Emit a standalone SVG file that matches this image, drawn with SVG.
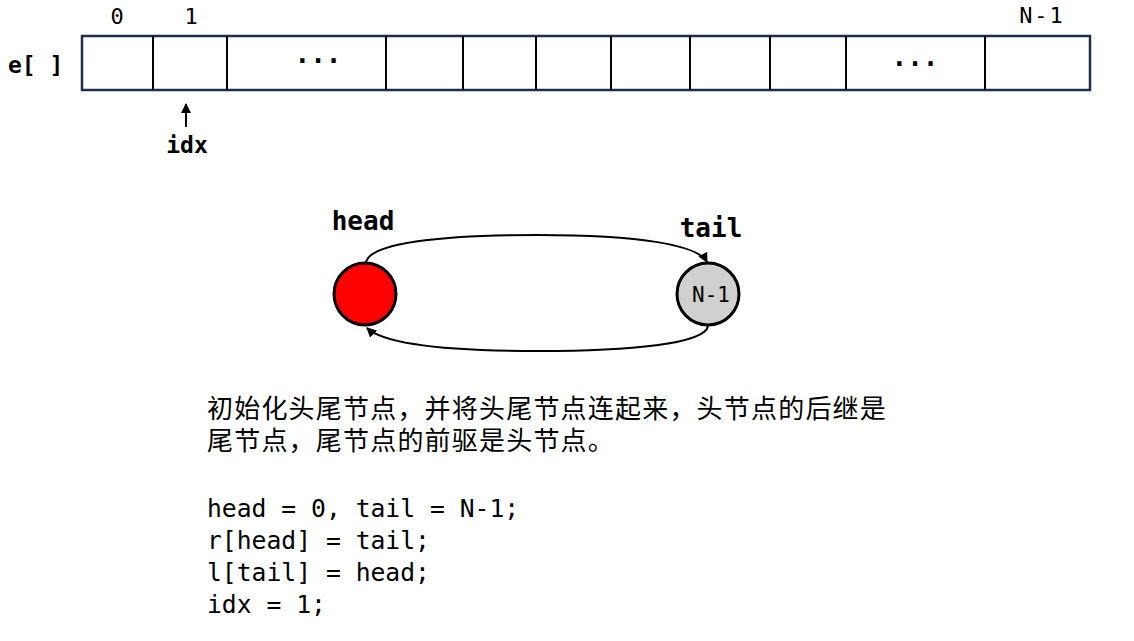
<svg xmlns="http://www.w3.org/2000/svg" width="1134" height="641" viewBox="0 0 1134 641">
<defs>
<style>
.mono{font-family:"DejaVu Sans Mono","Liberation Mono",monospace;fill:#000}
.b{font-weight:bold}
.cn{font-family:"Noto Sans CJK SC","Noto Sans CJK JP",sans-serif;font-size:26px;letter-spacing:1.2px;fill:#000}
.edge{fill:none;stroke:#000;stroke-width:2}
</style>
<marker id="ah" viewBox="0 0 10 10" refX="9" refY="5" markerWidth="5" markerHeight="5" orient="auto" markerUnits="strokeWidth">
<path d="M0,0 L10,5 L0,10 z" fill="#000"/>
</marker>
</defs>
<rect width="1134" height="641" fill="#fff"/>
<g id="array">
<rect x="82" y="36" width="1008" height="54" fill="#fff" stroke="#1f2d4a" stroke-width="2.5"/>
<g stroke="#000" stroke-width="2">
<line x1="153" y1="36" x2="153" y2="90"/>
<line x1="227" y1="36" x2="227" y2="90"/>
<line x1="386" y1="36" x2="386" y2="90"/>
<line x1="463" y1="36" x2="463" y2="90"/>
<line x1="536" y1="36" x2="536" y2="90"/>
<line x1="611" y1="36" x2="611" y2="90"/>
<line x1="690" y1="36" x2="690" y2="90"/>
<line x1="770" y1="36" x2="770" y2="90"/>
<line x1="846" y1="36" x2="846" y2="90"/>
<line x1="985" y1="36" x2="985" y2="90"/>
</g>
<text class="mono b" x="318" y="63" font-size="26" text-anchor="middle">...</text>
<text class="mono b" x="915" y="66" font-size="26" text-anchor="middle">...</text>
<text class="mono" x="117" y="24" font-size="22" text-anchor="middle">0</text>
<text class="mono" x="191" y="24" font-size="22" text-anchor="middle">1</text>
<text class="mono" x="1042" y="23" font-size="22" letter-spacing="2" text-anchor="middle">N-1</text>
<text class="mono b" x="8" y="73" font-size="23">e[ ]</text>
</g>
<g id="idx">
<line x1="186" y1="127" x2="186" y2="104" class="edge" marker-end="url(#ah)"/>
<text class="mono b" x="187" y="153" font-size="23" text-anchor="middle">idx</text>
</g>
<g id="connectors">
<path class="edge" d="M366,263 C368,243 440,235 538,235 C640,235 698,245 707,262" marker-end="url(#ah)"/>
<path class="edge" d="M708,326 C705,344 630,351 538,351 C450,351 385,345 367,328" marker-end="url(#ah)"/>
</g>
<g id="head">
<circle cx="365" cy="294" r="31" fill="#ff0000" stroke="#000" stroke-width="3"/>
<text class="mono b" x="363" y="230" font-size="26" text-anchor="middle">head</text>
</g>
<g id="tail">
<circle cx="708" cy="294" r="31" fill="#d0d0d0" stroke="#000" stroke-width="3"/>
<text class="mono" x="711" y="302" font-size="21" text-anchor="middle">N-1</text>
<text class="mono b" x="711" y="237" font-size="26" text-anchor="middle">tail</text>
</g>
<g id="description">
<text class="cn"><tspan x="207" y="418">初始化头尾节点，并将头尾节点连起来，头节点的后继是</tspan><tspan x="207" y="450">尾节点，尾节点的前驱是头节点。</tspan></text>
<text class="mono" x="207" y="517" font-size="24.7">head = 0, tail = N-1;</text>
<text class="mono" x="207" y="549" font-size="24.7">r[head] = tail;</text>
<text class="mono" x="207" y="581" font-size="24.7">l[tail] = head;</text>
<text class="mono" x="207" y="613" font-size="24.7">idx = 1;</text>
</g>
</svg>
